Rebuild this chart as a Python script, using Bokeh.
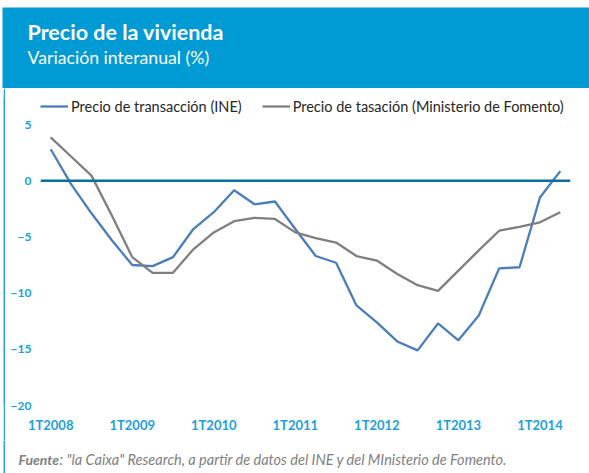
from bokeh.plotting import figure
from bokeh.models import Span, Legend, LegendItem, FixedTicker, Label, ColumnDataSource
from bokeh.layouts import column, row
from bokeh.embed import file_html
from bokeh.resources import INLINE

# ---- data ----
quarters = [f"{q}T{y}" for y in range(2008, 2015) for q in range(1, 5)][:26]
ine = [2.8, -0.3, -2.9, -5.3, -7.5, -7.6, -6.8, -4.3, -2.8, -0.85, -2.1, -1.85, -4.3,
       -6.7, -7.3, -11.1, -12.6, -14.3, -15.1, -12.7, -14.2, -12.0, -7.8, -7.7, -1.5, 0.85]
fomento = [3.85, 2.15, 0.45, -3.1, -6.8, -8.2, -8.2, -6.1, -4.6, -3.6, -3.3, -3.4, -4.6,
           -5.1, -5.5, -6.7, -7.1, -8.3, -9.3, -9.8, -8.0, -6.2, -4.45, -4.1, -3.7, -2.8]
series_names = ["Precio de transacción (INE)", "Precio de tasación (Ministerio de Fomento)"]
y_ticks = [5, 0, -5, -10, -15, -20]
title_text = "Precio de la vivienda"
subtitle_text = "Variación interanual (%)"
source_bold = "Fuente"
source_rest = ': "la Caixa" Research, a partir de datos del INE y del MInisterio de Fomento.'

FONT = "Lato"
HEADER_BLUE = "#009BD5"
TICK_BLUE = "#1BA0DB"
LINE_BLUE = "#27A5DE"

x = list(range(len(quarters)))
src = ColumnDataSource(dict(x=x, ine=ine, fomento=fomento))


def plain(w, h, color="white"):
    f = figure(width=w, height=h, x_range=(0, w), y_range=(0, h), output_backend="svg",
               toolbar_location=None, min_border=0, background_fill_color=color,
               border_fill_color=color, outline_line_color=None)
    f.xaxis.visible = False
    f.yaxis.visible = False
    f.xgrid.visible = False
    f.ygrid.visible = False
    return f


# ---- spacers / header ----
top_pad = plain(589, 7)
left_pad_h = plain(2, 81)
header = plain(587, 81, HEADER_BLUE)
header.add_layout(Label(x=25, y=57, text=title_text, text_font=FONT, text_font_style="bold",
                        text_font_size="21.5px", text_color="white", text_baseline="middle"))
header.add_layout(Label(x=25, y=31, text=subtitle_text, text_font=FONT,
                        text_font_size="17.7px", text_color="white", text_baseline="middle"))

# ---- main chart ----
MW, MH = 584, 352
y_top = 5 + 28 * 25 / 281  # frame extends above 5 to hold the legend
p = figure(width=MW, height=MH, x_range=(-0.5, len(quarters) - 0.5), y_range=(-20, y_top),
           output_backend="svg", toolbar_location=None,
           min_border_left=35, min_border_right=19, min_border_top=8, min_border_bottom=35,
           background_fill_color="white", border_fill_color="white", outline_line_color=None)
p.xgrid.visible = False
p.ygrid.visible = False

p.add_layout(Span(location=0, dimension="width", line_color="#0B6E9F", line_width=2.5))
r1 = p.line("x", "ine", source=src, line_color="#4A7EBB", line_width=2.3)
r2 = p.line("x", "fomento", source=src, line_color="#7F7F7F", line_width=2.3)

p.yaxis.ticker = FixedTicker(ticks=y_ticks)
first_q = [i for i, q in enumerate(quarters) if q.startswith("1T")]
p.xaxis.ticker = FixedTicker(ticks=first_q)
p.xaxis.major_label_overrides = {i: quarters[i] for i in first_q}
for ax in (p.xaxis, p.yaxis):
    ax.axis_line_color = None
    ax.major_tick_line_color = None
    ax.minor_tick_line_color = None
    ax.major_tick_out = 0
    ax.major_tick_in = 0
    ax.minor_tick_out = 0
    ax.minor_tick_in = 0
    ax.major_label_text_font = FONT
    ax.major_label_text_font_style = "bold"
    ax.major_label_text_color = TICK_BLUE
p.xaxis.major_label_text_font_size = "13px"
p.yaxis.major_label_text_font_size = "12px"
p.yaxis.major_label_standoff = 9
p.xaxis.major_label_standoff = 11

legend = Legend(items=[LegendItem(label=series_names[0], renderers=[r1]),
                       LegendItem(label=series_names[1], renderers=[r2])],
                orientation="horizontal", location=(0, 289), padding=0, margin=0,
                spacing=20, glyph_width=28, label_standoff=3,
                border_line_color=None, background_fill_alpha=0,
                label_text_font=FONT, label_text_font_size="14.5px", label_text_color="#262626")
p.add_layout(legend, "center")

# ---- footer ----
footer = plain(584, 33)
footer.add_layout(Label(x=13, y=14, text=source_bold, text_font=FONT, text_font_style="bold italic",
                        text_font_size="14px", text_color="#7F7F7F", text_baseline="middle",
                        text_align="left"))
footer.add_layout(Label(x=54, y=14, text=source_rest, text_font=FONT, text_font_style="italic",
                        text_font_size="14.5px", text_color="#7F7F7F", text_baseline="middle",
                        text_align="left"))

layout = column(
    top_pad,
    row(left_pad_h, header, spacing=0),
    row(plain(3, 352), plain(2, 352, LINE_BLUE), p, spacing=0),
    row(plain(3, 33), plain(2, 33, LINE_BLUE), footer, spacing=0),
    spacing=0,
)

open("out.html", "w").write(file_html(layout, INLINE))
